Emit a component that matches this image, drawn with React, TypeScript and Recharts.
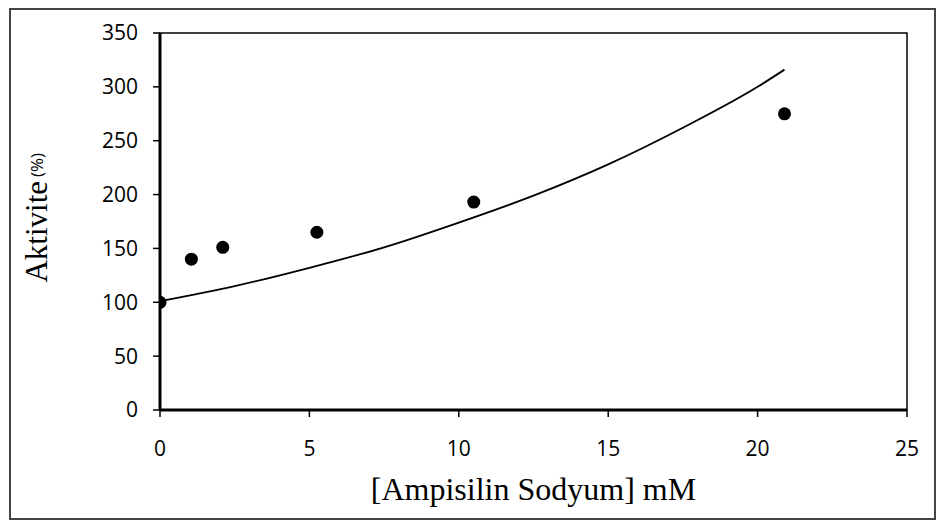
import React from 'react';
import { ComposedChart, Scatter, Line, XAxis, YAxis, ReferenceArea } from 'recharts';

const concentrations = [0, 1.05, 2.1, 5.25, 10.5, 20.9];
const activities = [100, 140, 151, 165, 193, 275];

// fitted trend curve, sampled from the figure
const trendX = [0, 2.5, 5, 7.5, 10, 12.5, 15, 17.5, 20, 20.9];
const trendY = [101, 115, 132, 151, 174, 199, 228, 262, 300, 316];

const xTicks = [0, 5, 10, 15, 20, 25];
const yTicks = [0, 50, 100, 150, 200, 250, 300, 350];

const points = concentrations.map((x, i) => ({ x, y: activities[i] }));
const trend = trendX.map((x, i) => ({ x, y: trendY[i] }));

const tickStyle = { fontFamily: '"Open Sans", sans-serif', fontSize: 21, fill: '#000' };

const YTitle = (props: any) => {
  const { viewBox } = props;
  const cx = viewBox.x - 64;
  const cy = viewBox.y + viewBox.height * 0.49;
  return (
    <text
      x={cx}
      y={cy}
      transform={`rotate(-90, ${cx}, ${cy})`}
      textAnchor="middle"
      dominantBaseline="central"
      fill="#000"
    >
      <tspan fontFamily='"Liberation Serif", serif' fontSize={31}>Aktivite</tspan>
      <tspan fontFamily='"Open Sans", sans-serif' fontSize={17} dx={4}>(%)</tspan>
    </text>
  );
};

const XTitle = (props: any) => {
  const { viewBox } = props;
  return (
    <text
      x={viewBox.x + viewBox.width / 2}
      y={viewBox.y + 90}
      textAnchor="middle"
      fontFamily='"Liberation Serif", serif'
      fontSize={32}
      fill="#000"
    >
      [Ampisilin Sodyum] mM
    </text>
  );
};

export default function App() {
  return (
    <div style={{ position: 'absolute', left: 0, top: 0, width: 944, height: 531, background: '#fff' }}>
      <div
        style={{
          position: 'absolute',
          left: 9,
          top: 8,
          width: 927,
          height: 512,
          border: '2px solid #444',
          boxSizing: 'border-box',
        }}
      />
      <ComposedChart
        width={944}
        height={531}
        margin={{ top: 33, right: 37, bottom: 41, left: 100 }}
        style={{ position: 'absolute', left: 0, top: 0 }}
      >
        <XAxis
          type="number"
          dataKey="x"
          domain={[0, 25]}
          ticks={xTicks}
          allowDataOverflow
          height={80}
          axisLine={{ stroke: '#000', strokeWidth: 3 }}
          tickLine={{ stroke: '#000', strokeWidth: 1.5 }}
          tickSize={7}
          tickMargin={24}
          tick={tickStyle}
          label={<XTitle />}
        />
        <YAxis
          type="number"
          dataKey="y"
          domain={[0, 350]}
          ticks={yTicks}
          width={60}
          axisLine={{ stroke: '#000', strokeWidth: 3 }}
          tickLine={{ stroke: '#000', strokeWidth: 1.5 }}
          tickSize={7}
          tickMargin={15}
          tick={tickStyle}
          label={<YTitle />}
        />
        <ReferenceArea
          x1={0}
          x2={25}
          y1={0}
          y2={350}
          fill="none"
          stroke="#000"
          strokeWidth={1.5}
          ifOverflow="visible"
        />
        <Line
          data={trend}
          dataKey="y"
          type="monotone"
          stroke="#000"
          strokeWidth={1.8}
          dot={false}
          activeDot={false}
          isAnimationActive={false}
        />
        <Scatter
          data={points}
          dataKey="y"
          fill="#000"
          shape={(p: any) => <circle cx={p.cx} cy={p.cy} r={6.5} fill="#000" />}
          isAnimationActive={false}
        />
      </ComposedChart>
    </div>
  );
}
